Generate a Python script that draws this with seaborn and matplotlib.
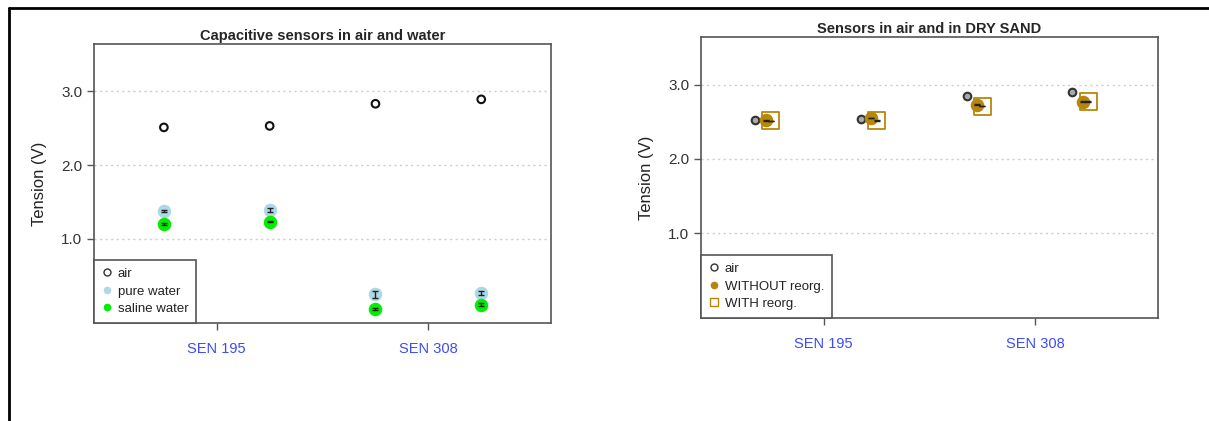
import matplotlib
matplotlib.use("Agg")
import matplotlib.pyplot as plt
from matplotlib.lines import Line2D
import seaborn as sns
import numpy as np
import pandas as pd

sns.set_style("white")
plt.rcParams['font.family'] = ['Liberation Sans', 'DejaVu Sans']

# sensor groups on the x axis
groups = ["SEN 195", "SEN 308"]
group_x = [1, 2]
# two sensors per group, plotted either side of the group tick
sensor_x = [0.75, 1.25, 1.75, 2.25]

# left panel: capacitive sensors in air and water (V)
air_w = [2.51, 2.53, 2.83, 2.89]
air_w_err = [0.0, 0.0, 0.0, 0.0]
pure = [1.38, 1.39, 0.25, 0.27]
pure_err = [0.015, 0.025, 0.045, 0.025]
saline = [1.20, 1.23, 0.05, 0.11]
saline_err = [0.008, 0.008, 0.008, 0.02]

# right panel: sensors in air and dry sand (V)
air_s = [2.52, 2.54, 2.85, 2.90]
air_s_err = [0.0, 0.0, 0.0, 0.0]
without_reorg = [2.52, 2.55, 2.73, 2.77]
without_err = [0.005, 0.005, 0.005, 0.005]
with_reorg = [2.51, 2.52, 2.71, 2.77]
with_err = [0.005, 0.005, 0.005, 0.005]

df_w = pd.DataFrame({
    "x": sensor_x * 3,
    "v": air_w + pure + saline,
    "err": air_w_err + pure_err + saline_err,
    "medium": ["air"] * 4 + ["pure water"] * 4 + ["saline water"] * 4,
})
df_s = pd.DataFrame({
    "x": sensor_x * 3,
    "v": air_s + without_reorg + with_reorg,
    "err": air_s_err + without_err + with_err,
    "medium": ["air"] * 4 + ["WITHOUT reorg."] * 4 + ["WITH reorg."] * 4,
})

gold = "#b8860b"
# marker style per series: (marker, size, face, edge, lw, x offset)
style_w = {
    "air": ("o", 30, "none", "#111111", 1.5, 0.0),
    "pure water": ("o", 95, "#add8e6", "#add8e6", 0, 0.0),
    "saline water": ("o", 95, "#00ee00", "#00ee00", 0, 0.0),
}
style_s = {
    "air": ("o", 30, "#aaaaaa", "#333333", 1.5, -0.075),
    "WITHOUT reorg.": ("o", 95, gold, gold, 0, -0.025),
    "WITH reorg.": ("s", 150, "none", gold, 1.3, 0.0),
}

fig = plt.figure(figsize=(12.09, 4.21), dpi=100)
ax1 = fig.add_axes([0.0778, 0.2328, 0.378, 0.6627])
ax2 = fig.add_axes([0.5798, 0.2447, 0.378, 0.6675])

def draw(ax, df, styles, title, legend_labels):
    for name, (m, s, fc, ec, lw, off) in styles.items():
        d = df[df["medium"] == name].copy()
        d["x"] = d["x"] + off
        sns.scatterplot(data=d, x="x", y="v", ax=ax, marker=m, s=s,
                        facecolor=fc, edgecolor=ec, linewidth=lw, zorder=3)
        if d["err"].max() > 0:
            ax.errorbar(d["x"], d["v"], yerr=d["err"], fmt="none", ecolor="#222222",
                        elinewidth=1, capsize=2, capthick=1, zorder=4)
    ax.set_xlim(0.42, 2.58)
    ax.set_ylim(-0.14, 3.64)
    ax.set_yticks([1.0, 2.0, 3.0])
    ax.set_yticklabels(["1.0", "2.0", "3.0"], fontsize=11, color="#333333")
    ax.set_xticks(group_x)
    ax.set_xticklabels(groups, fontsize=10.5, color="#3b4cf5")
    ax.tick_params(axis="both", direction="out", length=5, width=1, color="#555555",
                   left=True, bottom=True)
    ax.tick_params(axis="x", pad=9)
    ax.set_xlabel("")
    ax.set_ylabel("Tension (V)", fontsize=12, color="#222222", labelpad=10)
    for yv in [1.0, 2.0, 3.0]:
        ax.axhline(yv, color="#cccccc", lw=1, ls=(0, (1.5, 2.5)), zorder=1)
    for sp in ax.spines.values():
        sp.set_color("#555555")
        sp.set_linewidth(1.2)
    ax.set_title(title, fontsize=10.5, fontweight="bold", pad=3)
    leg = ax.legend(handles=legend_labels, loc="lower left", borderaxespad=0,
                    fancybox=False, framealpha=1, edgecolor="#555555", fontsize=9.5,
                    handletextpad=0.5, handlelength=0.7, borderpad=0.6,
                    labelspacing=0.4)
    leg.get_frame().set_linewidth(1.2)
    for t in leg.get_texts():
        t.set_color("#222222")

h_w = [
    Line2D([], [], ls="none", marker="o", ms=5, mfc="none", mec="#333333", mew=1, label="air"),
    Line2D([], [], ls="none", marker="o", ms=4.5, mfc="#add8e6", mec="#add8e6", label="pure water"),
    Line2D([], [], ls="none", marker="o", ms=4.5, mfc="#00ee00", mec="#00ee00", label="saline water"),
]
h_s = [
    Line2D([], [], ls="none", marker="o", ms=5, mfc="none", mec="#333333", mew=1, label="air"),
    Line2D([], [], ls="none", marker="o", ms=4.5, mfc=gold, mec=gold, label="WITHOUT reorg."),
    Line2D([], [], ls="none", marker="s", ms=5.5, mfc="none", mec=gold, mew=1, label="WITH reorg."),
]

draw(ax1, df_w, style_w, "Capacitive sensors in air and water", h_w)
draw(ax2, df_s, style_s, "Sensors in air and in DRY SAND", h_s)

# screenshot frame: top and left edge
fig.add_artist(Line2D([0.0074, 1.0], [0.981, 0.981], color="black", lw=2, transform=fig.transFigure))
fig.add_artist(Line2D([0.0074, 0.0074], [0.0, 0.981], color="black", lw=2, transform=fig.transFigure))

fig.savefig("out.png", dpi=100, facecolor="white")
